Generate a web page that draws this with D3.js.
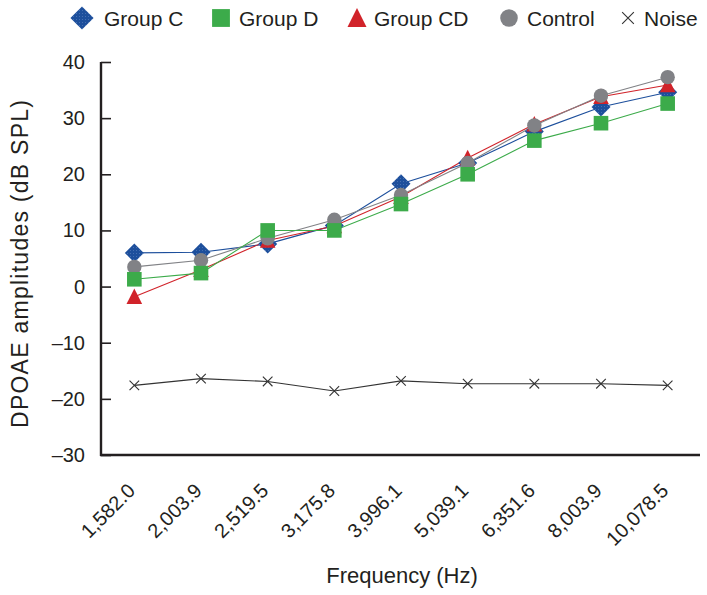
<!DOCTYPE html>
<html>
<head>
<meta charset="utf-8">
<script src="https://cdn.jsdelivr.net/npm/d3@7"></script>
<style>
  html, body { margin: 0; padding: 0; background: #fff; }
  svg { display: block; }
  text { font-family: "Liberation Sans", Arial, Helvetica, sans-serif; fill: #231f20; }
</style>
</head>
<body>
<svg id="chart" width="707" height="595"></svg>
<script>
// ---- data ----
const categories = ["1,582.0", "2,003.9", "2,519.5", "3,175.8", "3,996.1", "5,039.1", "6,351.6", "8,003.9", "10,078.5"];
const groupC  = [6.0, 6.1, 7.6, 10.9, 18.3, 22.0, 27.6, 32.0, 34.6];
const groupD  = [1.3, 2.4, 10.0, 10.0, 14.7, 20.0, 26.0, 29.1, 32.6];
const groupCD = [-1.8, 3.0, 8.2, 10.8, 16.0, 22.9, 28.9, 33.8, 35.9];
const control = [3.5, 4.7, 8.6, 11.9, 16.3, 22.0, 28.7, 34.0, 37.3];
const noise   = [-17.6, -16.4, -16.9, -18.6, -16.8, -17.3, -17.3, -17.3, -17.6];
const yTicks  = [40, 30, 20, 10, 0, -10, -20, -30];
const yLabel  = "DPOAE amplitudes (dB SPL)";
const xLabel  = "Frequency (Hz)";

const series = [
  { name: "Group C",  values: groupC,  color: "#1d4f9c", shape: "diamond" },
  { name: "Group D",  values: groupD,  color: "#3cab4a", shape: "square" },
  { name: "Group CD", values: groupCD, color: "#d1232a", shape: "triangle" },
  { name: "Control",  values: control, color: "#818286", shape: "circle" },
  { name: "Noise",    values: noise,   color: "#333333", shape: "cross" }
];
const drawOrder = ["Noise", "Group C", "Group CD", "Control", "Group D"];

// ---- layout ----
const svg = d3.select("#chart");
const mLeft = 101, mRight = 701, mTop = 62, mBottom = 455;

const x = d3.scalePoint().domain(categories).range([mLeft, mRight]).padding(0.5);
const y = d3.scaleLinear().domain([-30, 40]).range([mBottom, mTop]);

// axes
const yAxis = d3.axisRight(y).tickValues(yTicks).tickSize(10).tickFormat("");
const gy = svg.append("g").attr("transform", `translate(${mLeft},0)`).call(yAxis);
gy.select(".domain").remove();
gy.selectAll(".tick line").attr("stroke", "#231f20").attr("stroke-width", 1.6);

svg.append("line").attr("x1", mLeft).attr("x2", mLeft).attr("y1", mTop).attr("y2", mBottom + 1)
  .attr("stroke", "#231f20").attr("stroke-width", 2.4);
svg.append("line").attr("x1", mLeft - 1).attr("x2", 700).attr("y1", mBottom).attr("y2", mBottom)
  .attr("stroke", "#231f20").attr("stroke-width", 2.4);

// y tick labels
svg.append("g").selectAll("text").data(yTicks).join("text")
  .attr("x", 85).attr("y", d => y(d)).attr("dy", "0.35em")
  .attr("text-anchor", "end").attr("font-size", 20)
  .text(d => d < 0 ? "\u2013" + Math.abs(d) : d);

// x tick labels (rotated)
svg.append("g").selectAll("text").data(categories).join("text")
  .attr("transform", d => `translate(${x(d) + 2},${mBottom + 37}) rotate(-45)`)
  .attr("text-anchor", "end").attr("font-size", 20)
  .text(d => d);

// axis titles
svg.append("text").attr("transform", `translate(28,264) rotate(-90)`)
  .attr("text-anchor", "middle").attr("font-size", 23)
  .attr("textLength", 328).attr("lengthAdjust", "spacing").text(yLabel);
svg.append("text").attr("x", 402).attr("y", 583).attr("text-anchor", "middle")
  .attr("font-size", 22).text(xLabel);

// marker drawing
function marker(g, shape, color, cx, cy, s) {
  if (shape === "diamond") {
    const r = 9.5 * s;
    const d = `M${cx},${cy - r}L${cx + r},${cy}L${cx},${cy + r}L${cx - r},${cy}Z`;
    g.append("path").attr("d", d).attr("fill", color);
    g.append("path").attr("d", d).attr("fill", "url(#dots)");
  } else if (shape === "square") {
    const h = 7.3 * s;
    g.append("rect").attr("x", cx - h).attr("y", cy - h).attr("width", 2 * h).attr("height", 2 * h).attr("fill", color);
  } else if (shape === "triangle") {
    const w = 7.8 * s, hh = 7.3 * s;
    g.append("path").attr("d", `M${cx},${cy - hh - 1}L${cx + w},${cy + hh}L${cx - w},${cy + hh}Z`).attr("fill", color);
  } else if (shape === "circle") {
    g.append("circle").attr("cx", cx).attr("cy", cy).attr("r", 7.2 * s).attr("fill", color);
  } else if (shape === "cross") {
    const r = 4.8 * s;
    g.append("path").attr("d", `M${cx - r},${cy - r}L${cx + r},${cy + r}M${cx - r},${cy + r}L${cx + r},${cy - r}`)
      .attr("stroke", color).attr("stroke-width", 1.1).attr("fill", "none");
  }
}

// dot pattern for diamonds
const defs = svg.append("defs");
const pat = defs.append("pattern").attr("id", "dots").attr("patternUnits", "userSpaceOnUse").attr("width", 3).attr("height", 3);
pat.append("circle").attr("cx", 1.5).attr("cy", 1.5).attr("r", 0.45).attr("fill", "#6f8fc8");

// lines
const line = d3.line().x((d, i) => x(categories[i])).y(d => y(d));
const ordered = drawOrder.map(n => series.find(s => s.name === n));
svg.append("g").selectAll("path").data(ordered).join("path")
  .attr("d", s => line(s.values)).attr("fill", "none")
  .attr("stroke", s => s.color).attr("stroke-width", 1.1);

// markers
const gm = svg.append("g");
ordered.forEach(s => {
  s.values.forEach((v, i) => marker(gm, s.shape, s.color, x(categories[i]), y(v), 1));
});

// legend
const legendX = [82, 221, 357, 509, 628];
const legendTextX = [104, 239, 374, 527, 644];
const gl = svg.append("g");
series.forEach((s, i) => {
  marker(gl, s.shape, s.color, legendX[i], 18, 1.22);
  gl.append("text").attr("x", legendTextX[i])
    .attr("y", 18).attr("dy", "0.36em").attr("font-size", 21).text(s.name);
});
</script>
</body>
</html>
